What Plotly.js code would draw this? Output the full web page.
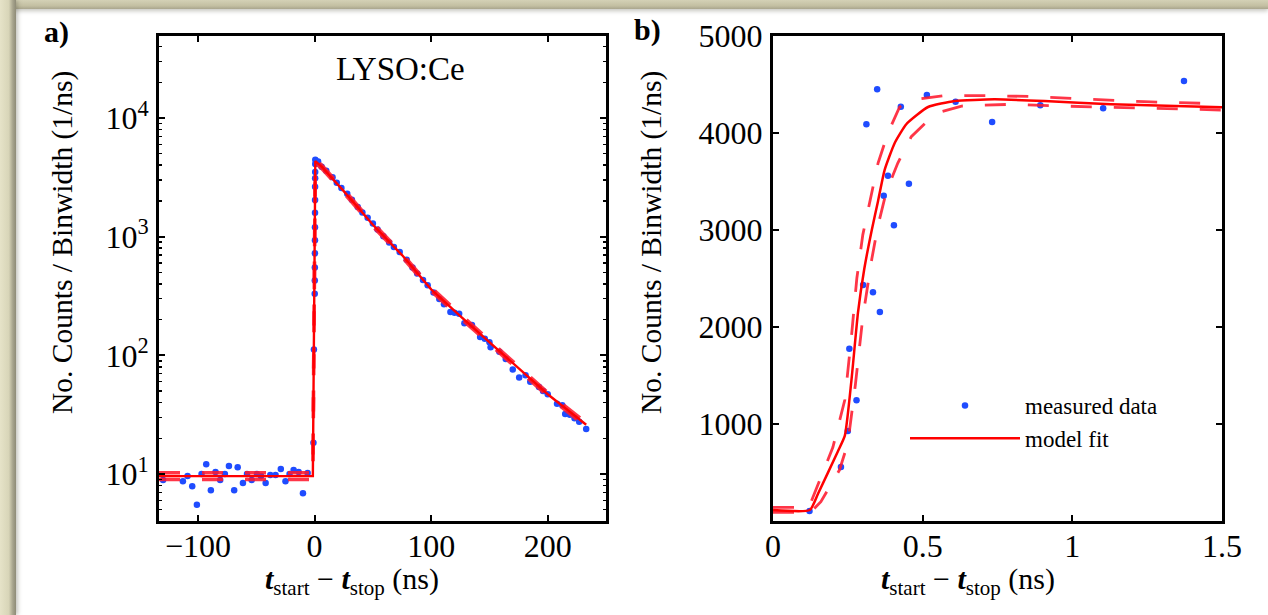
<!DOCTYPE html>
<html><head><meta charset="utf-8">
<script src="https://cdn.plot.ly/plotly-3.0.1.min.js"></script>
<style>
html,body{margin:0;padding:0;background:#fff;}
#wrap{position:relative;width:1268px;height:615px;overflow:hidden;background:#fff;}
#chart{position:absolute;left:0;top:0;width:1268px;height:615px;}
#bandTop{position:absolute;left:0;top:0;width:1268px;height:9px;background:linear-gradient(#d4d1b6,#c3bfa2 65%,#a9a58d);box-shadow:0 2px 4px rgba(90,90,70,0.35);}
#bandLeft{position:absolute;left:0;top:0;width:16px;height:615px;background:linear-gradient(90deg,#e6e3c8,#d8d5b8 55%,#a7a48d 80%,#8e8b77);box-shadow:2px 0 4px rgba(90,90,70,0.35);}
</style></head><body>
<div id="wrap"><div id="chart"></div><div id="bandTop"></div><div id="bandLeft"></div></div>
<script>
// ---------- Panel a) LYSO:Ce, log scale ----------
const aTime = [-130,-113,-109,-105,-101,-97,-93,-89,-85,-81,-77,-73.5,-69,-66,-61.5,-58,-54,-49.5,-46,-42,-38,-33.5,-29,-25,-21.5,-18,-13.7,-10,-6,
  -1,-0.6,0.1,0.15,0.2,0.25,0.3,0.32,0.35,0.38,0.4,0.45,0.5,0.55,0.6,
  3,6,10,15.4,19,23,28,32,37,41,45.5,50,54,59,64,68,73,79,84,88,93,97,102,107,111,116.5,120,124,128.5,135,142,146,150,151,158.5,164,170,175.5,181,185,192.5,196,200,208,212.5,215,219,223,227,233];
const aCounts = [8.9,8.7,9.6,7.9,5.5,10,12.1,7.3,10.4,8.9,10,11.7,7.3,11.4,8.4,10,8.9,10,9.6,8.4,9.8,9.8,11.0,8.7,10,10.8,10.4,6.9,10.2,
  18.3,112,331,427,550,724,933,1200,1590,2040,2630,3100,3500,4100,4450,
  4300,3890,3600,3160,2850,2570,2300,2050,1778,1600,1445,1290,1148,1010,891,820,741,640,550,490,431,389,339,299,269,232,228,224,186,180,143,138,129,117,107,93,76,65,68,60,54,50,47,39,38,32,31.6,29.5,27.5,24];
const aFitTime   = [-133.5,-1.5,0.6,6,25,50,75,100,125,150,175,200,233];
const aFitCounts = [9.6,9.6,4340,3890,2420,1260,700,360,214,129,78,47,26];
const aFitUpper  = [10.25,10.25,4480,4010,2495,1300,722,372,221,133,80.5,48.5,27];
const aFitLower  = [9.0,9.0,4200,3770,2345,1220,678,348,207,125,75.5,45.5,25];
const aXTicks = [-100,0,100,200];
const aXTickText = ['\u2212100','0','100','200'];
const aYTicks = [10,100,1000,10000];
const aYTickText = ['10<sup>1</sup>','10<sup>2</sup>','10<sup>3</sup>','10<sup>4</sup>'];

// ---------- Panel b) zoom on the rising edge, linear ----------
const bTime   = [0.122,0.227,0.25,0.255,0.279,0.301,0.312,0.334,0.348,0.357,0.37,0.384,0.404,0.427,0.454,0.514,0.61,0.732,0.893,1.103,1.373];
const bCounts = [103,557,928,1777,1244,2433,4090,2358,4450,2155,3354,3560,3048,4271,3477,4392,4323,4113,4285,4255,4536];
const bFitTime   = [0,0.123,0.15,0.217,0.24,0.262,0.284,0.305,0.33,0.351,0.373,0.407,0.446,0.518,0.607,0.74,0.907,1.129,1.5];
const bFitCounts = [113,113,278,720,880,1450,2150,2600,3000,3300,3620,3900,4093,4268,4330,4347,4330,4296,4265];
const bUpTime    = [0,0.12,0.2,0.24,0.262,0.28,0.3,0.323,0.351,0.384,0.423,0.462,0.573,0.717,0.883,1.04,1.24,1.5];
const bUpCounts  = [140,140,760,1250,1900,2500,2950,3300,3690,4000,4268,4340,4385,4385,4375,4350,4323,4300];
const bLoTime    = [0,0.125,0.16,0.222,0.25,0.275,0.3,0.33,0.351,0.379,0.417,0.462,0.523,0.562,0.63,0.796,0.962,1.129,1.296,1.5];
const bLoCounts  = [88,88,200,525,800,1400,2100,2700,3050,3400,3690,3962,4144,4220,4278,4296,4278,4265,4247,4237];
const bXTicks = [0,0.5,1,1.5];
const bXTickText = ['0','0.5','1','1.5'];
const bYTicks = [1000,2000,3000,4000,5000];
const bYTickText = ['1000','2000','3000','4000','5000'];

// ---------- style ----------
const W = 1268, H = 615;
const px = v => v / W, py = v => 1 - v / H;
const SERIF = 'Liberation Serif, Times New Roman, serif';
const BLUE = '#1f4cff';
const RED = '#ff0000';
const DRED = 'rgba(255,25,45,0.88)';
const DASH = '21px,22px';

const minorLog = [];
for (let k = 0; k <= 4; k++) for (let d = 2; d <= 9; d++) minorLog.push(d * Math.pow(10, k));

const traces = [
  {x: aTime, y: aCounts, xaxis: 'x', yaxis: 'y', mode: 'markers', type: 'scatter',
   marker: {color: BLUE, size: 6.5}, showlegend: false, name: 'measured data'},
  {x: bTime, y: bCounts, xaxis: 'x2', yaxis: 'y2', mode: 'markers', type: 'scatter',
   marker: {color: BLUE, size: 6.5}, name: 'measured data'},
  {x: aFitTime, y: aFitUpper, xaxis: 'x', yaxis: 'y', mode: 'lines', type: 'scatter',
   line: {color: DRED, width: 3.6, dash: DASH}, showlegend: false},
  {x: aFitTime, y: aFitLower, xaxis: 'x', yaxis: 'y', mode: 'lines', type: 'scatter',
   line: {color: DRED, width: 3.6, dash: DASH}, showlegend: false},
  {x: aFitTime, y: aFitCounts, xaxis: 'x', yaxis: 'y', mode: 'lines', type: 'scatter',
   line: {color: RED, width: 2.4}, showlegend: false, name: 'model fit'},
  {x: bUpTime, y: bUpCounts, xaxis: 'x2', yaxis: 'y2', mode: 'lines', type: 'scatter',
   line: {color: DRED, width: 2.8, dash: DASH}, showlegend: false},
  {x: bLoTime, y: bLoCounts, xaxis: 'x2', yaxis: 'y2', mode: 'lines', type: 'scatter',
   line: {color: DRED, width: 2.8, dash: DASH}, showlegend: false},
  {x: bFitTime, y: bFitCounts, xaxis: 'x2', yaxis: 'y2', mode: 'lines', type: 'scatter',
   line: {color: RED, width: 2.5, shape: 'spline', smoothing: 0.5}, name: 'model fit'}
];

const tickFont = {family: SERIF, size: 32, color: '#000'};
const baseAxis = {
  showline: true, linewidth: 3, linecolor: '#000', mirror: 'ticks',
  ticks: 'inside', ticklen: 6, tickwidth: 2, tickcolor: '#000',
  showgrid: false, zeroline: false, tickfont: tickFont, automargin: false,
  tickmode: 'array', fixedrange: true
};

const xTitle = '<b><i>t</i></b><sub>start</sub> \u2212 <b><i>t</i></b><sub>stop</sub> (ns)';
const yTitle = 'No. Counts / Binwidth (1/ns)';

function note(text, x, y, size, extra) {
  return Object.assign({text: text, x: px(x), y: py(y), xref: 'paper', yref: 'paper', showarrow: false,
    xanchor: 'center', yanchor: 'middle', font: {family: SERIF, size: size, color: '#000'}}, extra || {});
}

const layout = {
  width: W, height: H,
  margin: {l: 0, r: 0, t: 0, b: 0},
  paper_bgcolor: 'rgba(0,0,0,0)', plot_bgcolor: '#fff',
  font: {family: SERIF, color: '#000'},
  xaxis: Object.assign({}, baseAxis, {domain: [px(159), px(606)], range: [-133.5, 250], anchor: 'y',
    tickvals: aXTicks, ticktext: aXTickText, ticklabelstandoff: -5}),
  yaxis: Object.assign({}, baseAxis, {domain: [py(521), py(36)], type: 'log', range: [0.604, 4.691], anchor: 'x',
    tickvals: aYTicks, ticktext: aYTickText, ticklabelstandoff: 1,
    minor: {tickmode: 'array', tickvals: minorLog, ticks: 'inside', ticklen: 3, tickwidth: 1.5, tickcolor: '#000', showgrid: false}}),
  xaxis2: Object.assign({}, baseAxis, {domain: [px(773), px(1222)], range: [0, 1.5], anchor: 'y2',
    tickvals: bXTicks, ticktext: bXTickText, ticklabelstandoff: -5}),
  yaxis2: Object.assign({}, baseAxis, {domain: [py(521), py(36)], range: [0, 5000], anchor: 'x2',
    tickvals: bYTicks, ticktext: bYTickText, ticklabelstandoff: 1}),
  showlegend: true,
  legend: {x: px(905), y: py(384), xanchor: 'left', yanchor: 'top', bgcolor: 'rgba(0,0,0,0)',
    borderwidth: 0, itemwidth: 110, font: {family: SERIF, size: 23, color: '#000'}, tracegroupgap: 0},
  annotations: [
    note('<b>a)</b>', 56, 32, 30),
    note('<b>b)</b>', 647, 30, 30),
    note('LYSO:Ce', 401, 69, 33),
    note(yTitle, 62, 243, 29.5, {textangle: -90}),
    note(yTitle, 651, 243, 29.5, {textangle: -90}),
    note(xTitle, 352, 581, 30),
    note(xTitle, 968, 581, 30)
  ]
};

Plotly.newPlot('chart', traces, layout, {staticPlot: true, displayModeBar: false});
</script></body></html>
